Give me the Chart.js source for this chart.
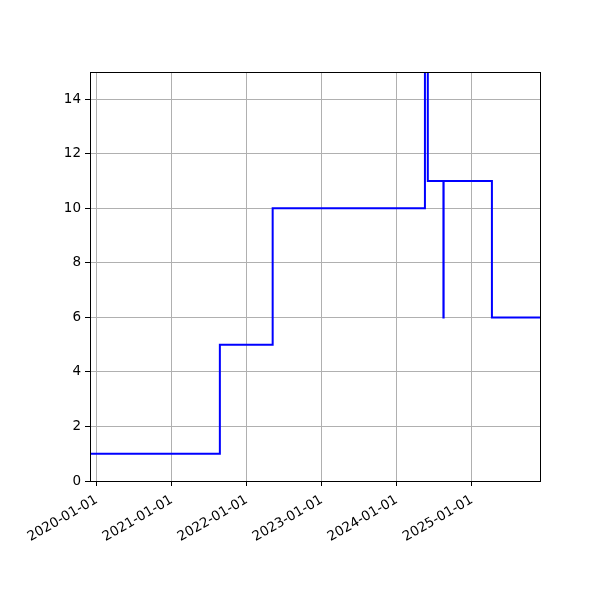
<!DOCTYPE html>
<html>
<head>
<meta charset="utf-8">
<script src="https://cdn.jsdelivr.net/npm/chart.js@4.4.1/dist/chart.umd.min.js"></script>
<style>
    html, body { margin: 0; padding: 0; background: #fff; }
    #wrap { width: 600px; height: 600px; }
</style>
</head>
<body>
<div id="wrap"><canvas id="chart" width="600" height="600"></canvas></div>
<script>
// change dates (value holds from that date on) and the values
const dates = ['2019-11-30', '2021-08-23', '2022-05-07', '2024-05-17', '2024-05-31',
               '2024-08-15', '2024-08-16', '2025-04-08', '2025-11-28'];
const values = [1, 5, 10, 30, 11, 6, 11, 6, 6];

// x tick labels (Jan 1 of each year)
const tickLabels = ['2020-01-01', '2021-01-01', '2022-01-01', '2023-01-01', '2024-01-01', '2025-01-01'];
const yTicks = [0, 2, 4, 6, 8, 10, 12, 14];

function toMs(s) {
    const [y, m, d] = s.split('-').map(Number);
    return Date.UTC(y, m - 1, d);
}

const points = dates.map((d, i) => ({ x: toMs(d), y: values[i] }));
const xMin = toMs(dates[0]);
const xMax = toMs(dates[dates.length - 1]);

// draws the full box around the plot like matplotlib spines
const frame = {
    id: 'frame',
    afterDraw(chart) {
        const a = chart.chartArea;
        const ctx = chart.ctx;
        ctx.save();
        ctx.strokeStyle = '#000';
        ctx.lineWidth = 1;
        ctx.strokeRect(Math.round(a.left) + 0.5, Math.round(a.top) + 0.5,
                       Math.round(a.right - a.left), Math.round(a.bottom - a.top));
        ctx.restore();
    }
};

const font = { family: 'DejaVu Sans', size: 13.5 };

new Chart(document.getElementById('chart').getContext('2d'), {
    type: 'line',
    data: {
        datasets: [{
            data: points,
            borderColor: '#0000ff',
            borderWidth: 2,
            pointRadius: 0,
            fill: false,
            stepped: 'before',
        }],
    },
    options: {
        responsive: false,
        animation: false,
        events: [],
        layout: { padding: { left: 0, top: 72, right: 60, bottom: 0 } },
        plugins: {
            legend: { display: false },
            tooltip: { enabled: false },
        },
        scales: {
            x: {
                type: 'linear',
                min: xMin,
                max: xMax,
                afterBuildTicks: (scale) => {
                    scale.ticks = tickLabels.map((t) => ({ value: toMs(t) }));
                },
                afterFit: (scale) => { scale.height = 119; },
                ticks: {
                    color: '#000',
                    font: font,
                    minRotation: 30,
                    maxRotation: 30,
                    padding: 6,
                    callback: (v) => new Date(v).toISOString().slice(0, 10),
                },
                grid: { color: '#b0b0b0', tickColor: '#000', tickLength: 5, lineWidth: 1 },
                border: { color: '#000' },
            },
            y: {
                min: 0,
                max: 15,
                afterBuildTicks: (scale) => {
                    scale.ticks = yTicks.map((v) => ({ value: v }));
                },
                afterFit: (scale) => { scale.width = 90; },
                ticks: { color: '#000', font: font, padding: 4 },
                grid: { color: '#b0b0b0', tickColor: '#000', tickLength: 5, lineWidth: 1 },
                border: { color: '#000' },
            },
        },
    },
    plugins: [frame],
});
</script>
</body>
</html>
